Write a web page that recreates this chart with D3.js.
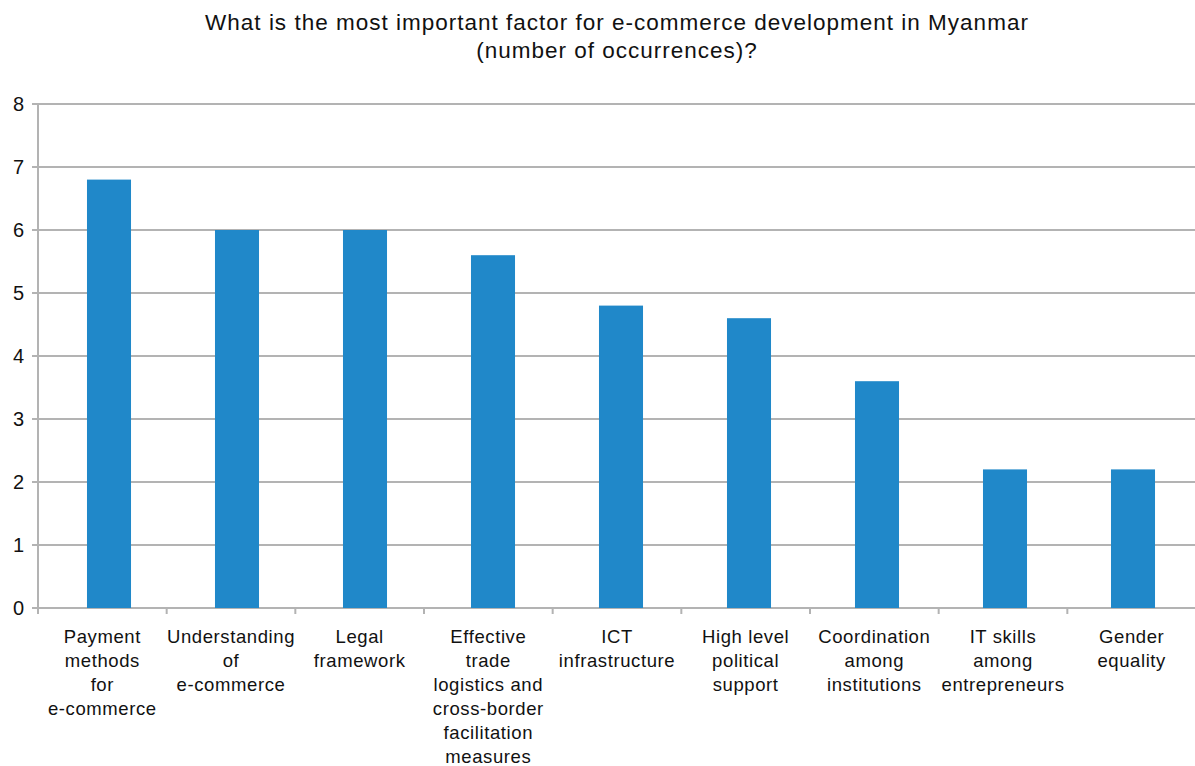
<!DOCTYPE html>
<html>
<head>
<meta charset="utf-8">
<script src="https://cdn.jsdelivr.net/npm/d3@7"></script>
<style>
  html, body { margin: 0; padding: 0; background: #fff; }
  svg { display: block; font-family: "Liberation Sans", Arial, sans-serif; }
</style>
</head>
<body>
<svg id="chart" width="1195" height="766"></svg>
<script>
// Survey answers: most important factor for e-commerce development
const categories = [
  ["Payment", "methods", "for", "e-commerce"],
  ["Understanding", "of", "e-commerce"],
  ["Legal", "framework"],
  ["Effective", "trade", "logistics and", "cross-border", "facilitation", "measures"],
  ["ICT", "infrastructure"],
  ["High level", "political", "support"],
  ["Coordination", "among", "institutions"],
  ["IT skills", "among", "entrepreneurs"],
  ["Gender", "equality"]
];
const values = [6.8, 6, 6, 5.6, 4.8, 4.6, 3.6, 2.2, 2.2];
const yTicks = [0, 1, 2, 3, 4, 5, 6, 7, 8];
const titleLines = [
  "What is the most important factor for e-commerce development in Myanmar",
  "(number of occurrences)?"
];

const svg = d3.select("#chart");
const plotLeft = 38, plotRight = 1196, plotTop = 104, plotBottom = 608;
const gridColor = "#b3b3b3";

// category slots (tick marks and labels)
const slot = d3.scaleBand()
  .domain(d3.range(categories.length))
  .range([plotLeft, plotRight]);

// bar placement
const x = d3.scaleBand()
  .domain(d3.range(categories.length))
  .range([plotLeft + 7, plotRight + 1])
  .paddingInner(0.656)
  .paddingOuter(0.328);

const y = d3.scaleLinear().domain([0, 8]).range([plotBottom, plotTop]);

// horizontal gridlines
svg.append("g")
  .selectAll("line")
  .data(yTicks)
  .join("line")
  .attr("x1", plotLeft - 6)
  .attr("x2", plotRight)
  .attr("y1", d => y(d))
  .attr("y2", d => y(d))
  .attr("stroke", gridColor)
  .attr("stroke-width", 2);

// y axis line
svg.append("line")
  .attr("x1", plotLeft).attr("x2", plotLeft)
  .attr("y1", y(8)).attr("y2", y(0) + 6)
  .attr("stroke", gridColor).attr("stroke-width", 2);

// category tick marks
svg.append("g")
  .selectAll("line")
  .data(d3.range(1, categories.length))
  .join("line")
  .attr("x1", i => slot(i))
  .attr("x2", i => slot(i))
  .attr("y1", y(0))
  .attr("y2", y(0) + 6)
  .attr("stroke", gridColor)
  .attr("stroke-width", 2);

// y tick labels
svg.append("g")
  .selectAll("text")
  .data(yTicks)
  .join("text")
  .attr("x", 24)
  .attr("y", d => y(d))
  .attr("dy", "0.36em")
  .attr("text-anchor", "end")
  .attr("font-size", 20)
  .attr("fill", "#111")
  .text(d => d);

// bars
svg.append("g")
  .selectAll("rect")
  .data(values)
  .join("rect")
  .attr("x", (d, i) => x(i))
  .attr("width", x.bandwidth())
  .attr("y", d => y(d))
  .attr("height", d => y(0) - y(d))
  .attr("fill", "#2088c9");

// category labels
const lbl = svg.append("g")
  .selectAll("text")
  .data(categories)
  .join("text")
  .attr("text-anchor", "middle")
  .attr("font-size", 18.5)
  .attr("letter-spacing", 0.6)
  .attr("fill", "#111")
  .attr("x", (d, i) => slot(i) + slot.bandwidth() / 2)
  .attr("y", 643);
lbl.selectAll("tspan")
  .data(d => d)
  .join("tspan")
  .attr("x", function () { return this.parentNode.getAttribute("x"); })
  .attr("dy", (d, i) => i === 0 ? 0 : 24)
  .text(d => d);

// title
svg.append("g")
  .selectAll("text")
  .data(titleLines)
  .join("text")
  .attr("x", 617)
  .attr("y", (d, i) => 30 + i * 28)
  .attr("text-anchor", "middle")
  .attr("font-size", 22.5)
  .attr("letter-spacing", 1.0)
  .attr("fill", "#111")
  .text(d => d);
</script>
</body>
</html>
